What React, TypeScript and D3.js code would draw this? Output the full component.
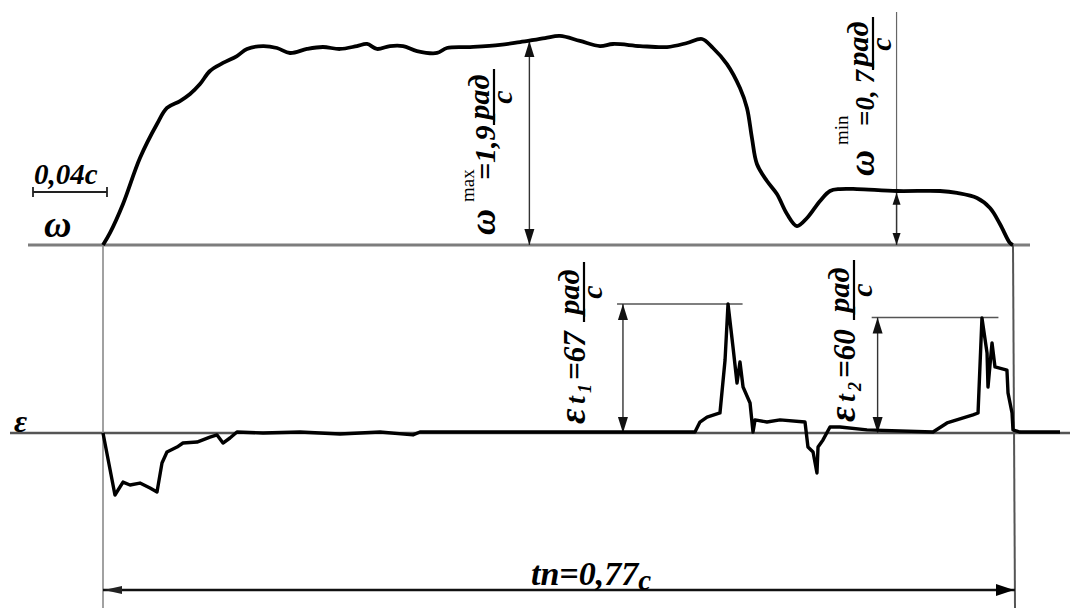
import React from "react";
import * as d3 from "d3";

// ω(t) trace: time in ms, angular velocity in rad/s
const omegaT = [0, 5.9, 16.9, 31.2, 45.6, 54.0, 65.0, 73.5, 81.9, 90.3, 101.3, 113.1, 121.6, 135.1, 146.9, 157.9, 172.2, 185.7, 200.1, 214.4, 222.9, 231.3, 242.3, 253.3, 265.1, 282.0, 290.4, 309.9, 335.2, 352.1, 373.2, 385.8, 402.7, 419.6, 430.6, 453.4, 476.2, 493.1, 505.7, 515.0, 526.8, 537.8, 543.7, 547.9, 552.1, 560.6, 569.0, 577.5, 585.9, 594.4, 605.4, 613.8, 622.2, 636.6, 670.4, 706.7, 721.0, 737.9, 748.9, 757.3, 765.8, 768.3];
const omegaV = [0, 0.111, 0.378, 0.802, 1.116, 1.264, 1.328, 1.393, 1.485, 1.605, 1.679, 1.743, 1.808, 1.835, 1.817, 1.771, 1.808, 1.826, 1.808, 1.835, 1.854, 1.808, 1.835, 1.835, 1.789, 1.771, 1.817, 1.826, 1.845, 1.872, 1.909, 1.928, 1.882, 1.835, 1.854, 1.835, 1.826, 1.863, 1.9, 1.817, 1.669, 1.448, 1.264, 0.987, 0.747, 0.59, 0.47, 0.286, 0.175, 0.249, 0.406, 0.498, 0.516, 0.516, 0.498, 0.498, 0.48, 0.433, 0.341, 0.194, 0.018, 0];

// ε(t) trace: time in ms, angular acceleration in rad/s²
const epsT = [0, 10.1, 16.9, 22.8, 31.2, 39.7, 45.6, 49.8, 54.0, 62.5, 67.5, 79.4, 90.3, 96.3, 101.3, 107.2, 113.1, 135.1, 166.3, 200.1, 233.9, 261.7, 267.6, 335.2, 419.6, 499.8, 504.0, 510.0, 520.9, 525.2, 527.7, 531.9, 535.3, 537.8, 540.4, 546.3, 548.8, 550.5, 560.6, 571.6, 592.7, 595.2, 599.5, 602.8, 603.7, 607.9, 613.8, 622.2, 645.0, 700.8, 712.6, 734.5, 738.8, 742.1, 746.4, 747.2, 750.6, 753.1, 763.2, 764.1, 767.5, 768.3, 774.2, 808.0];
const epsV = [0, -32.2, -25.5, -27.0, -26.0, -28.6, -30.6, -15.6, -9.9, -7.3, -5.2, -4.7, -2.1, -1.0, -5.2, -2.6, 0.5, 0, 0.5, -0.5, 0.5, -1.0, 0.5, 0.5, 0.5, 0.5, 5.7, 8.3, 10.4, 37.9, 67.0, 44.7, 26.0, 36.9, 23.9, 15.6, 0.5, 6.8, 5.7, 6.8, 5.7, -7.3, -9.9, -20.8, -7.3, -3.6, 3.1, 3.1, 1.6, 0.5, 5.2, 9.4, 10.4, 59.7, 41.6, 23.9, 46.8, 34.3, 32.7, 20.8, 10.4, 1.6, 0.5, 0.5];

// marked values and where they are measured (ms)
const T_TOTAL = 770;
const OMEGA_MAX = 1.9;
const OMEGA_MIN_DRAWN = 0.5;
const EPS1 = 67;
const EPS2 = 60;
const tMax = 360;
const tMin = 670;
const tEps1 = 439;
const eps1Line = [434, 540];
const tEps2 = 654;
const eps2Line = [649, 756];

const FONT = "'Liberation Serif', 'Times New Roman', serif";

const tri = (x: number, y: number, dx: number, dy: number, len = 14, half = 4.5) => {
  const bx = x - dx * len;
  const by = y - dy * len;
  const px = -dy * half;
  const py = dx * half;
  return `${x},${y} ${bx + px},${by + py} ${bx - px},${by - py}`;
};

const VArrow = ({ x, y1, y2, len = 14, half = 4.5, color = "#333" }: any) => (
  <g>
    <line x1={x} x2={x} y1={y1} y2={y2} stroke={color} strokeWidth={1.4} />
    <polygon points={tri(x, y1, 0, -1, len, half)} fill="#111" />
    <polygon points={tri(x, y2, 0, 1, len, half)} fill="#111" />
  </g>
);

// rotated fraction рад/с (drawn in the rotated frame)
const Frac = ({ cx, x1, x2, size = 30 }: any) => (
  <g>
    <text x={cx} y={-6} textAnchor="middle" fontSize={size}>рад</text>
    <line x1={x1} x2={x2} y1={-1} y2={-1} stroke="#000" strokeWidth={2.2} />
    <text x={cx} y={17} textAnchor="middle" fontSize={size}>с</text>
  </g>
);

const App = () => {
  const x = d3.scaleLinear().domain([0, T_TOTAL]).range([103, 1015]);
  const yW = d3.scaleLinear().domain([0, OMEGA_MAX]).range([245, 39]);
  const yE = d3.scaleLinear().domain([0, EPS1]).range([433, 304]);

  const omegaLine = d3
    .line<number>()
    .x((d, i) => x(omegaT[i]))
    .y((d) => yW(d))
    .curve(d3.curveCatmullRom.alpha(0.5));
  const epsLine = d3
    .line<number>()
    .x((d, i) => x(epsT[i]))
    .y((d) => yE(d));

  const x0 = x(0);
  const xEnd = x(T_TOTAL);

  return (
    <svg
      width={1072}
      height={611}
      style={{ position: "absolute", left: 0, top: 0, background: "#fff" }}
      fontFamily={FONT}
      fontStyle="italic"
      fontWeight="bold"
    >
      {/* baselines */}
      <line x1={28} x2={1030} y1={yW(0)} y2={yW(0)} stroke="#7d7d7d" strokeWidth={3} />
      <line x1={10} x2={1070} y1={yE(0)} y2={yE(0)} stroke="#555" strokeWidth={2.4} />

      {/* time limits */}
      <line x1={x0} x2={x0} y1={yW(0)} y2={608} stroke="#8a8a8a" strokeWidth={1.6} />
      <line x1={xEnd - 2} x2={xEnd} y1={yW(0)} y2={608} stroke="#555" strokeWidth={2} />

      {/* tп arrow */}
      <line x1={x0} x2={xEnd} y1={590} y2={590} stroke="#111" strokeWidth={2.4} />
      <polygon points={tri(x0 + 1, 590, -1, 0, 18, 4)} fill="#222" />
      <polygon points={tri(xEnd - 1, 590, 1, 0, 18, 6)} fill="#000" />
      <text x={591} y={585} textAnchor="middle" fontSize={34}>
        tп=0,77<tspan fontSize={29} dy={5}>с</tspan>
      </text>

      {/* scale bar */}
      <text x={34} y={184} fontSize={29}>0,04с</text>
      <line x1={33} x2={107} y1={192} y2={192} stroke="#222" strokeWidth={1.8} />
      <line x1={33} x2={33} y1={187} y2={197} stroke="#222" strokeWidth={1.8} />
      <line x1={107} x2={107} y1={187} y2={197} stroke="#222" strokeWidth={1.8} />

      {/* axis names */}
      <text x={44} y={237} fontSize={38}>ω</text>
      <text x={14} y={432} fontSize={32}>ε</text>

      {/* ω max */}
      <VArrow x={x(tMax)} y1={yW(OMEGA_MAX) + 2} y2={yW(0)} len={16} half={5} />
      <g transform="translate(495,240) rotate(-90)">
        <text x={5} y={0} fontSize={36}>ω</text>
        <text x={38} y={-21} fontSize={19} fontStyle="normal" fontWeight="normal">max</text>
        <text x={60} y={0} fontSize={30}>=1,9</text>
        <Frac cx={143} x1={115} x2={171} />
      </g>

      {/* ω min */}
      <line x1={x(tMin)} x2={x(tMin)} y1={12} y2={yW(0)} stroke="#666" strokeWidth={1.2} />
      <VArrow x={x(tMin)} y1={yW(OMEGA_MIN_DRAWN) + 2} y2={yW(0)} len={12} half={4} />
      <g transform="translate(874,178) rotate(-90)">
        <text x={2} y={0} fontSize={36}>ω</text>
        <text x={33} y={-26} fontSize={19} fontStyle="normal" fontWeight="normal">min</text>
        <text x={52} y={0} fontSize={27}>=0, 7</text>
        <Frac cx={134} x1={108} x2={161} />
      </g>

      {/* ε1 */}
      <line x1={x(eps1Line[0])} x2={x(eps1Line[1])} y1={yE(EPS1)} y2={yE(EPS1)} stroke="#555" strokeWidth={1.6} />
      <VArrow x={x(tEps1)} y1={yE(EPS1)} y2={yE(0)} len={16} half={5} />
      <g transform="translate(585,428) rotate(-90)">
        <text x={4} y={0} fontSize={38}>ε</text>
        <text x={24} y={0} fontSize={28}>t</text>
        <text x={35} y={6} fontSize={18}>1</text>
        <text x={48} y={0} fontSize={31}>=67</text>
        <Frac cx={136} x1={106} x2={166} />
      </g>

      {/* ε2 */}
      <line x1={x(eps2Line[0])} x2={x(eps2Line[1])} y1={yE(EPS2)} y2={yE(EPS2)} stroke="#555" strokeWidth={1.6} />
      <VArrow x={x(tEps2)} y1={yE(EPS2)} y2={yE(0)} len={16} half={5} />
      <g transform="translate(855,426) rotate(-90)">
        <text x={4} y={0} fontSize={38}>ε</text>
        <text x={24} y={0} fontSize={28}>t</text>
        <text x={35} y={6} fontSize={18}>2</text>
        <text x={48} y={0} fontSize={31}>=60</text>
        <Frac cx={136} x1={106} x2={166} />
      </g>

      {/* traces */}
      <path d={omegaLine(omegaV) || ""} fill="none" stroke="#000" strokeWidth={3.8} strokeLinejoin="round" />
      <path d={epsLine(epsV) || ""} fill="none" stroke="#000" strokeWidth={3.4} strokeLinejoin="round" />
    </svg>
  );
};

export default App;
